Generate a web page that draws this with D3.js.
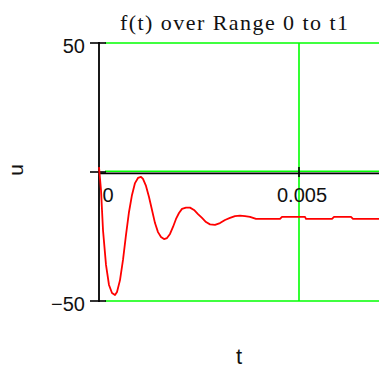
<!DOCTYPE html>
<html>
<head>
<meta charset="utf-8">
<script src="https://cdn.jsdelivr.net/npm/d3@7"></script>
<style>
  html, body { margin: 0; padding: 0; background: #fff; }
  svg { display: block; }
</style>
</head>
<body>
<svg id="chart" width="379" height="372"></svg>
<script>
// ---- data ----
const titleText = "f(t) over Range 0 to t1";
const xLabel = "t";
const yLabel = "u";
const xTicks = [0, 0.005];
const xTickLabels = ["0", "0.005"];
const yTicks = [50, 0, -50];
const yTickLabels = ["50", "", "-50"];
const xDomain = [0, 0.007];
const yDomain = [-50, 50];

const tValues = [0, 0.00005, 0.0001, 0.000175, 0.00025, 0.000325, 0.0004, 0.00045,
  0.000525, 0.0006, 0.000675, 0.00075, 0.000825, 0.0009, 0.000975, 0.00105, 0.0011,
  0.001175, 0.00125, 0.001325, 0.0014, 0.001475, 0.00155, 0.001625, 0.0017, 0.001775,
  0.00185, 0.001925, 0.002, 0.002075, 0.002175, 0.002275, 0.002375, 0.002475, 0.002575,
  0.002675, 0.002775, 0.0029, 0.003025, 0.00315, 0.003275, 0.0034, 0.003525, 0.00365,
  0.003775, 0.003925, 0.004525, 0.004575, 0.00515, 0.005175, 0.005825, 0.005875,
  0.0063, 0.00635, 0.007];
const uValues = [1.9, -7.0, -22.5, -36.0, -43.8, -46.9, -47.7, -46.5,
  -41.9, -34.1, -24.4, -15.5, -8.9, -4.3, -2.3, -1.9, -2.7,
  -5.4, -9.7, -14.7, -19.8, -23.3, -25.2, -26.0, -25.6, -24.0,
  -21.3, -18.2, -15.9, -14.3, -13.8, -13.8, -14.7, -16.3, -17.8,
  -19.4, -20.3, -20.5, -19.8, -18.6, -17.8, -17.1, -16.9, -17.1,
  -17.4, -18.2, -18.2, -17.4, -17.4, -18.2, -18.2, -17.4,
  -17.4, -18.2, -18.2];

// ---- layout ----
const svg = d3.select("#chart");
const x = d3.scaleLinear().domain(xDomain).range([99, 379]);
const y = d3.scaleLinear().domain(yDomain).range([301, 43]);
const GREEN = "#00ff00", BLACK = "#000", RED = "#ff0000";

// gridlines
const grid = svg.append("g");
yTicks.forEach(v => {
  grid.append("line")
    .attr("x1", x(0) + 6).attr("x2", x(xDomain[1]))
    .attr("y1", y(v) - (v === 0 ? 0.7 : 0)).attr("y2", y(v) - (v === 0 ? 0.7 : 0))
    .attr("stroke", GREEN).attr("stroke-width", v === 0 ? 1.6 : 1.6);
});
xTicks.filter(v => v !== 0).forEach(v => {
  grid.append("line")
    .attr("x1", x(v)).attr("x2", x(v))
    .attr("y1", y(yDomain[1])).attr("y2", y(yDomain[0]))
    .attr("stroke", GREEN).attr("stroke-width", 1.6);
});

// axes
const ax = svg.append("g").attr("stroke", BLACK);
ax.append("line")
  .attr("x1", x(0)).attr("x2", x(0))
  .attr("y1", y(yDomain[1]) - 1).attr("y2", y(yDomain[0]) + 1)
  .attr("stroke-width", 1.8);
ax.append("line")
  .attr("x1", x(0)).attr("x2", x(xDomain[1]))
  .attr("y1", y(0) + 1.3).attr("y2", y(0) + 1.3)
  .attr("stroke-width", 1.8);
yTicks.forEach(v => {
  ax.append("line")
    .attr("x1", x(0) - 9).attr("x2", x(0) + 7)
    .attr("y1", y(v)).attr("y2", y(v))
    .attr("stroke-width", 1.6);
});
xTicks.filter(v => v !== 0).forEach(v => {
  ax.append("line")
    .attr("x1", x(v)).attr("x2", x(v))
    .attr("y1", y(0) - 5).attr("y2", y(0) + 5)
    .attr("stroke-width", 1.6);
});

// tick labels
const tickFont = "'Liberation Sans', Arial, sans-serif";
yTicks.forEach((v, i) => {
  if (!yTickLabels[i]) return;
  svg.append("text")
    .attr("x", x(0) - 14).attr("y", y(v) + 10)
    .attr("text-anchor", "end")
    .attr("font-family", tickFont).attr("font-size", 20)
    .attr("fill", "#111")
    .text(yTickLabels[i].replace("-", "\u2212"));
});
xTicks.forEach((v, i) => {
  svg.append("text")
    .attr("x", x(v) + (v === 0 ? 9 : 3)).attr("y", y(0) + 30)
    .attr("text-anchor", "middle")
    .attr("font-family", tickFont).attr("font-size", 20)
    .attr("fill", "#111")
    .text(xTickLabels[i]);
});

// curve
const line = d3.line().x(d => x(d[0])).y(d => y(d[1]));
svg.append("path")
  .datum(tValues.map((t, i) => [t, uValues[i]]))
  .attr("d", line)
  .attr("fill", "none")
  .attr("stroke", RED)
  .attr("stroke-width", 1.8)
  .attr("stroke-linejoin", "round");

// title and axis labels
svg.append("text")
  .attr("x", 234).attr("y", 30)
  .attr("text-anchor", "middle")
  .attr("font-family", "'Liberation Serif', 'Times New Roman', serif")
  .attr("font-size", 22)
  .attr("textLength", 228).attr("lengthAdjust", "spacing")
  .attr("fill", "#111")
  .text(titleText);

svg.append("text")
  .attr("transform", `translate(23, ${y(0) - 2}) rotate(-90)`)
  .attr("text-anchor", "middle")
  .attr("font-family", tickFont).attr("font-size", 21)
  .attr("fill", "#111")
  .text(yLabel);

svg.append("text")
  .attr("x", 239).attr("y", 364)
  .attr("text-anchor", "middle")
  .attr("font-family", tickFont).attr("font-size", 22)
  .attr("fill", "#111")
  .text(xLabel);
</script>
</body>
</html>
